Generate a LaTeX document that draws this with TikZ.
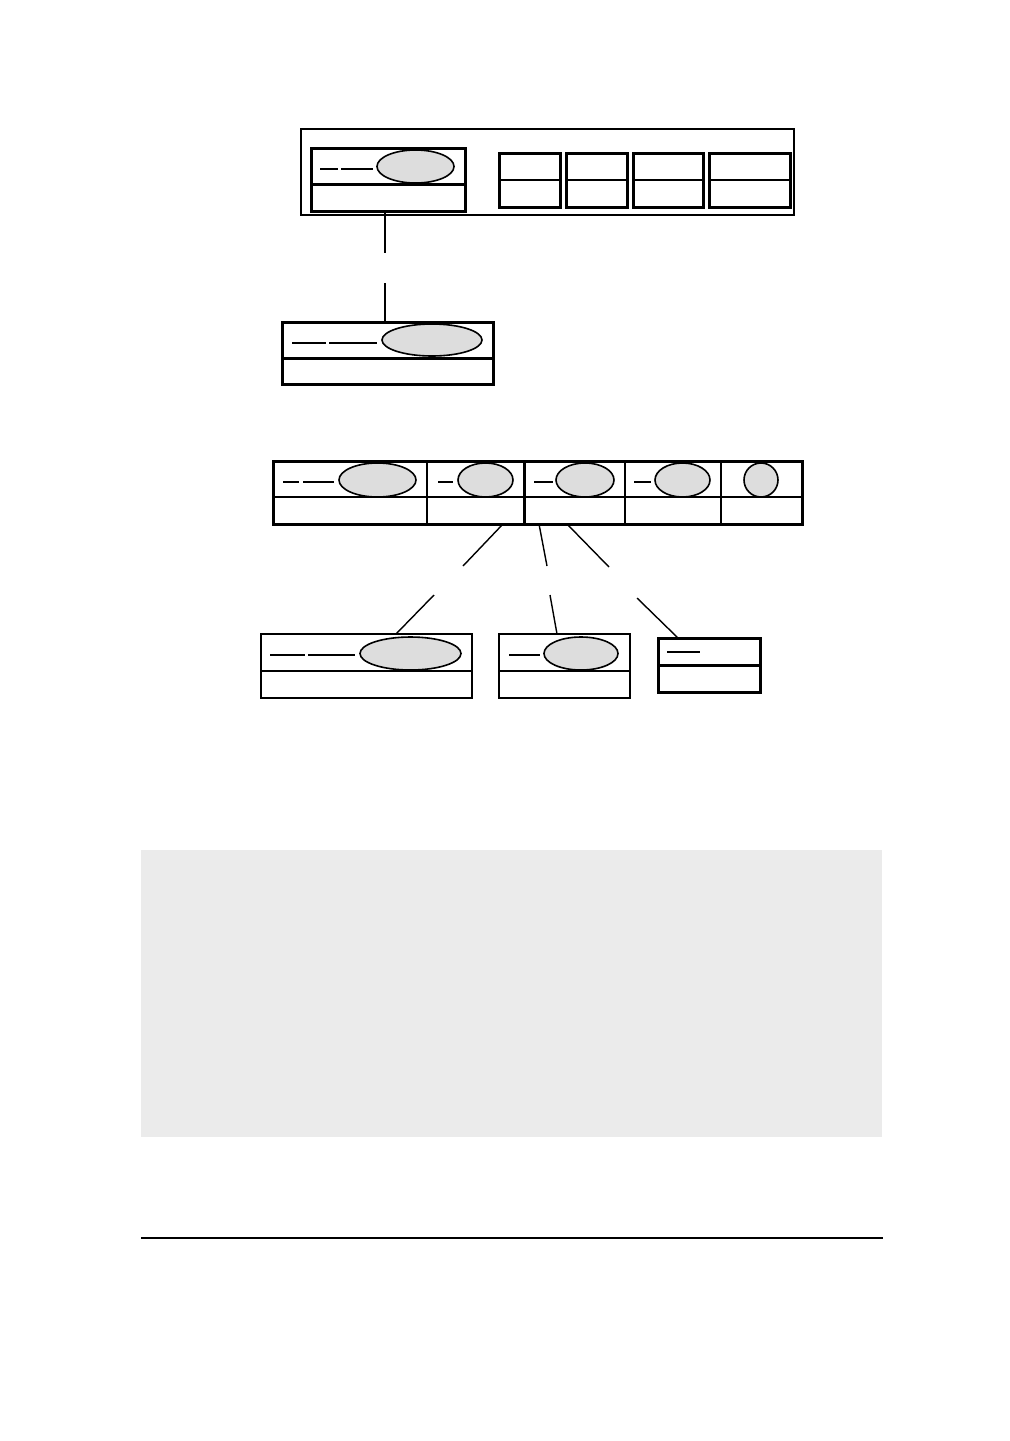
\documentclass[tikz,border=0pt]{standalone}
\usetikzlibrary{shapes.geometric}
\definecolor{ovalgray}{HTML}{DDDDDD}
\definecolor{panelgray}{HTML}{EBEBEB}
\newcommand\rectnode[6]{%
  \node[#1, minimum width={(#5-#3)*0.5pt}, minimum height={(#6-#4)*0.5pt}] (#2) at ({(#3+#5)/2},{(#4+#6)/2}) {};}
\newcommand\ovalnode[5]{%
  \node[oval, minimum width={(#4-#2)*0.5pt}, minimum height={(#5-#3)*0.5pt}] (#1) at ({(#2+#4)/2},{(#3+#5)/2}) {};}
\begin{document}
\begin{tikzpicture}[x=0.5pt,y=-0.5pt,
  thinframe/.style={draw, rectangle, inner sep=0pt, outer sep=0pt, line width=1pt},
  thickframe/.style={draw, rectangle, inner sep=0pt, outer sep=0pt, line width=1.5pt},
  oval/.style={draw, ellipse, fill=ovalgray, line width=0.8pt, inner sep=0pt, outer sep=0pt},
  dashmark/.style={line width=1pt},
  divider/.style={line width=1pt},
  link/.style={line width=0.7pt}]
\useasboundingbox (0,0) rectangle (1009,1441);

% ---------- top group ----------
\rectnode{thinframe}{outer}{301}{129}{794}{215}
\rectnode{thickframe}{t1}{311}{148}{465}{211}
\draw[line width=1.5pt] (311,184) -- (465,184);
\draw[dashmark] (320,169) -- (338,169);
\draw[dashmark] (341,169) -- (373,169);
\ovalnode{e1}{377}{150}{454}{183}

\rectnode{thickframe}{s1}{499}{153}{560}{207}
\rectnode{thickframe}{s2}{566}{153}{627}{207}
\rectnode{thickframe}{s3}{633}{153}{703}{207}
\rectnode{thickframe}{s4}{709}{153}{790}{207}
\foreach \n in {s1,s2,s3,s4}{\draw[divider] (\n.west |- 0,180) -- (\n.east |- 0,180);}

% second box
\rectnode{thickframe}{t2}{282}{322}{493}{384}
\draw[line width=1.5pt] (282,358) -- (493,358);
\draw[dashmark] (292,343) -- (326,343);
\draw[dashmark] (329,343) -- (377,343);
\ovalnode{e2}{382}{324}{482}{356}

% broken connector t1 -> t2
\coordinate (c1a) at (385,253);
\coordinate (c1b) at (385,283);
\draw[link] (t1.south -| 385,0) -- (c1a);
\draw[link] (c1b) -- (t2.north -| 385,0);

% ---------- middle row ----------
\rectnode{thinframe}{r1}{273}{461}{427}{524}
\rectnode{thinframe}{r2}{427}{461}{524}{524}
\rectnode{thinframe}{r3}{524}{461}{625}{524}
\rectnode{thinframe}{r4}{625}{461}{721}{524}
\rectnode{thinframe}{r5}{721}{461}{802}{524}
\draw[line width=1.5pt] (273,461) rectangle (802,524);
\draw[line width=1.5pt] (524,461) -- (524,524);
\draw[divider] (273,497) -- (802,497);

\draw[dashmark] (283,482) -- (299,482);
\draw[dashmark] (303,482) -- (334,482);
\ovalnode{o1}{339}{463}{416}{497}
\draw[dashmark] (438,482) -- (453,482);
\ovalnode{o2}{458}{463}{513}{497}
\draw[dashmark] (534,482) -- (553,482);
\ovalnode{o3}{556}{463}{614}{497}
\draw[dashmark] (634,482) -- (651,482);
\ovalnode{o4}{655}{463}{710}{497}
\ovalnode{o5}{744}{463}{778}{497}

% ---------- bottom row ----------
\rectnode{thinframe}{ba}{261}{634}{472}{698}
\draw[divider] (261,671) -- (472,671);
\draw[line width=0.6pt] (270,655) -- (305,655);
\draw[line width=0.6pt] (308,655) -- (355,655);
\ovalnode{oa}{360}{637}{461}{670}

\rectnode{thinframe}{bb}{499}{634}{630}{698}
\draw[divider] (499,671) -- (630,671);
\draw[line width=0.6pt] (509,655) -- (540,655);
\ovalnode{ob}{544}{637}{618}{670}

\rectnode{thickframe}{bc}{658}{638}{760}{692}
\draw[line width=1.5pt] (658,665) -- (760,665);
\draw[dashmark] (667,652) -- (700,652);

% broken connectors from middle row
\coordinate (l1a) at (463,566);
\coordinate (l1b) at (434,595);
\coordinate (l2a) at (547,566);
\coordinate (l2b) at (550,595);
\coordinate (l3a) at (609,567);
\coordinate (l3b) at (637,598);
\draw[link] (r2.south -| 503,0) -- (l1a);
\draw[link] (l1b) -- (ba.north -| 396,0);
\draw[link] (r3.south -| 539,0) -- (l2a);
\draw[link] (l2b) -- (bb.north -| 557,0);
\draw[link] (r3.south -| 567,0) -- (l3a);
\draw[link] (l3b) -- (bc.north -| 678,0);

% ---------- grey panel and rule ----------
\node[fill=panelgray, rectangle, inner sep=0pt, minimum width={(882-141)*0.5pt}, minimum height={(1137-850)*0.5pt}] (panel) at ({(141+882)/2},{(850+1137)/2}) {};
\coordinate (rulel) at (141,1238);
\coordinate (ruler) at (883,1238);
\draw[line width=1pt] (rulel) -- (ruler);
\end{tikzpicture}
\end{document}
